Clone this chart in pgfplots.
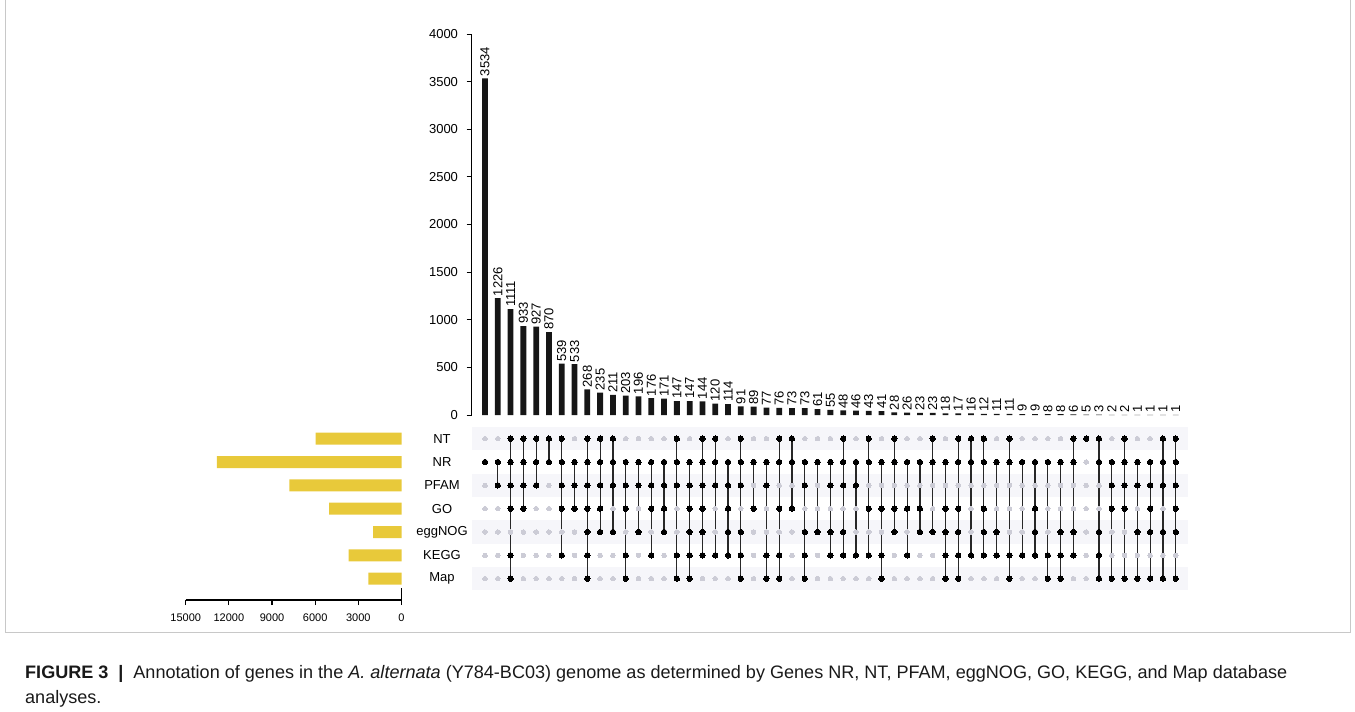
\documentclass[border=0pt]{standalone}
\usepackage{fontspec}
\setmainfont{Liberation Sans}
\usepackage{pgfplots}
\usepackage{pgfplotstable}
\pgfplotsset{compat=1.18}
\definecolor{barblack}{RGB}{22,22,22}
\definecolor{setyellow}{RGB}{232,201,58}
\definecolor{dotgrey}{RGB}{204,204,214}
\definecolor{stripe}{RGB}{246,246,250}
\definecolor{linecol}{RGB}{40,40,40}
\definecolor{framegrey}{RGB}{200,200,200}
\newlength\capw
\newcommand\captionlineone{\textbf{FIGURE 3}\hspace{0.55em}\textbf{|}\hspace{0.55em}Annotation of genes in the \textit{A. alternata} (Y784-BC03) genome as determined by Genes NR, NT, PFAM, eggNOG, GO, KEGG, and Map database}

% i = column, n = intersection size, membership flags, lo/hi = span of the connecting line
\pgfplotstableread{
i n NT NR PF GO EG KE MA lo hi
0 3534 0 1 0 0 0 0 0 6 6
1 1226 0 1 1 0 0 0 0 5 6
2 1111 1 1 1 1 0 1 1 1 7
3 933 1 1 1 1 0 0 0 4 7
4 927 1 1 1 0 0 0 0 5 7
5 870 1 1 0 0 0 0 0 6 7
6 539 1 1 1 1 0 1 0 2 7
7 533 0 1 1 1 0 0 0 4 6
8 268 1 1 1 1 1 1 1 1 7
9 235 1 1 1 1 1 0 0 3 7
10 211 1 1 1 0 1 0 0 3 7
11 203 0 1 1 1 0 1 1 1 6
12 196 0 1 1 0 1 0 0 3 6
13 176 0 1 1 1 0 1 0 2 6
14 171 0 1 1 1 1 0 0 3 6
15 147 1 1 1 0 0 1 1 1 7
16 147 0 1 1 1 1 1 1 1 6
17 144 1 1 1 1 1 1 0 2 7
18 120 1 1 1 0 0 1 0 2 7
19 114 0 1 1 1 1 1 0 2 6
20 91 1 1 1 0 1 1 1 1 7
21 89 0 1 0 1 0 0 0 4 6
22 77 0 1 1 0 0 1 1 1 6
23 76 1 1 0 1 0 1 1 1 7
24 73 1 1 0 1 0 0 0 4 7
25 73 0 1 1 0 1 1 1 1 6
26 61 0 1 0 0 1 0 0 3 6
27 55 0 1 1 0 1 1 0 2 6
28 48 1 1 1 0 1 1 0 2 7
29 46 0 1 1 0 0 1 0 2 6
30 43 1 1 0 1 0 1 0 2 7
31 41 0 1 0 1 0 1 1 1 6
32 28 1 1 0 1 1 0 0 3 7
33 26 0 1 0 1 0 1 0 2 6
34 23 0 1 0 1 1 0 0 3 6
35 23 1 1 0 0 1 0 0 3 7
36 18 0 1 0 1 1 1 1 1 6
37 17 1 1 0 1 1 1 1 1 7
38 16 1 1 0 0 0 1 0 2 7
39 12 1 1 0 1 1 1 0 2 7
40 11 0 1 0 0 1 1 0 2 6
41 11 1 1 0 0 0 1 1 1 7
42 9 0 1 0 0 0 1 0 2 6
43 9 0 1 0 1 1 1 0 2 6
44 8 0 1 0 0 0 1 1 1 6
45 8 0 1 0 0 1 1 1 1 6
46 6 1 1 0 0 1 1 0 2 7
47 5 1 0 0 0 0 0 0 7 7
48 3 1 1 0 0 1 1 1 1 7
49 2 0 1 1 1 0 0 1 1 6
50 2 1 1 1 1 0 0 1 1 7
51 1 0 1 1 0 1 0 1 1 6
52 1 0 1 1 1 1 0 1 1 6
53 1 1 1 1 0 1 0 1 1 7
54 1 1 1 1 1 1 0 1 1 7
}\upset

\pgfplotstableread{
y size
7 5961
6 12834
5 7799
4 5035
3 1976
2 3673
1 2307
}\setsizes

\begin{document}%
\settowidth\capw{\fontsize{10}{12}\selectfont\captionlineone}%
\pgfmathsetmacro\capfs{1262/\capw*10}%
\begin{tikzpicture}[x=1pt,y=1pt]
\useasboundingbox (0,0) rectangle (1355,-712);
\draw[framegrey, line width=1pt] (5.5,0) -- (5.5,-632) -- (1350,-632) -- (1350,0);

% ---------- set sizes (drawn leftwards from 0) ----------
\begin{axis}[
  at={(185.7pt,-600pt)}, anchor=south west,
  scale only axis, width=215.8pt, height=173pt,
  xmin=-15000, xmax=0, ymin=0.087, ymax=7.5,
  axis x line=bottom, axis y line=none,
  x axis line style={-, draw=black, line width=1.2pt},
  xtick={-15000,-12000,-9000,-6000,-3000,0},
  xticklabels={15000,12000,9000,6000,3000,0},
  tick align=outside, major tick length=5pt,
  xtick style={draw=black, line width=1.2pt},
  xticklabel style={font=\fontsize{11}{13}\selectfont, yshift=-5pt},
  scaled x ticks=false,
  clip=false,
]
\addplot[xbar, bar width=12pt, fill=setyellow, draw=none] table[x expr=-\thisrow{size}, y=y] {\setsizes};
\fill[black] (rel axis cs:0,0) ++(-0.6,0.6) rectangle ([xshift=0.6pt,yshift=-0.6pt]rel axis cs:1,0);
\end{axis}

% ---------- intersection size bars ----------
\begin{axis}[
  at={(471.5pt,-415pt)}, anchor=south west,
  scale only axis, width=716.5pt, height=381pt,
  xmin=-1.055, xmax=54.96, ymin=0, ymax=4000,
  axis x line=none, axis y line=left,
  y axis line style={-, draw=black, line width=0.9pt},
  ytick={0,500,...,4000},
  tick align=outside, major tick length=5pt,
  ytick style={draw=black, line width=0.9pt},
  yticklabel style={font=\fontsize{13}{15}\selectfont, xshift=-5pt},
  /pgf/number format/1000 sep={}, /pgf/number format/assume math mode=true,
  scaled y ticks=false,
  clip=false,
]
\addplot[ybar, bar width=5.8pt, fill=barblack, draw=none,
  nodes near coords,
  nodes near coords style={rotate=90, anchor=west, font=\fontsize{13}{15}\selectfont, inner sep=2pt, black}]
  table[x=i, y=n] {\upset};
\end{axis}

% ---------- matrix ----------
\begin{axis}[
  at={(471.5pt,-590.3pt)}, anchor=south west,
  scale only axis, width=716.5pt, height=163.3pt,
  xmin=-1.055, xmax=54.96, ymin=0.5, ymax=7.5,
  axis line style={draw=none},
  xtick=\empty, ytick={1,...,7},
  yticklabels={Map,KEGG,eggNOG,GO,PFAM,NR,NT},
  major tick length=0pt,
  yticklabel style={anchor=center, xshift=-29.5pt, font=\fontsize{13}{15}\selectfont},
  clip=false,
]
\fill[stripe] (axis cs:-1.055,6.5) rectangle (axis cs:54.96,7.5);
\fill[stripe] (axis cs:-1.055,4.5) rectangle (axis cs:54.96,5.5);
\fill[stripe] (axis cs:-1.055,2.5) rectangle (axis cs:54.96,3.5);
\fill[stripe] (axis cs:-1.055,0.5) rectangle (axis cs:54.96,1.5);
\pgfplotsset{greydot/.style={only marks, color=dotgrey, mark=*, mark size=2.3pt, mark options={draw=dotgrey, fill=dotgrey, line width=0pt}},
  blackdot/.style={only marks, color=black, mark=*, mark size=2.7pt, mark options={draw=black, fill=black, line width=0pt}}}
\addplot[greydot] table[x=i, y expr=7] {\upset};
\addplot[greydot] table[x=i, y expr=6] {\upset};
\addplot[greydot] table[x=i, y expr=5] {\upset};
\addplot[greydot] table[x=i, y expr=4] {\upset};
\addplot[greydot] table[x=i, y expr=3] {\upset};
\addplot[greydot] table[x=i, y expr=2] {\upset};
\addplot[greydot] table[x=i, y expr=1] {\upset};
\addplot[draw=none, mark=none, error bars/.cd, y dir=plus, y explicit, error mark=none,
  error bar style={draw=linecol, line width=1.2pt}]
  table[x=i, y=lo, y error expr=\thisrow{hi}-\thisrow{lo}] {\upset};
\addplot[blackdot, restrict expr to domain={\thisrow{NT}}{0.5:1.5}] table[x=i, y expr=7] {\upset};
\addplot[blackdot, restrict expr to domain={\thisrow{NR}}{0.5:1.5}] table[x=i, y expr=6] {\upset};
\addplot[blackdot, restrict expr to domain={\thisrow{PF}}{0.5:1.5}] table[x=i, y expr=5] {\upset};
\addplot[blackdot, restrict expr to domain={\thisrow{GO}}{0.5:1.5}] table[x=i, y expr=4] {\upset};
\addplot[blackdot, restrict expr to domain={\thisrow{EG}}{0.5:1.5}] table[x=i, y expr=3] {\upset};
\addplot[blackdot, restrict expr to domain={\thisrow{KE}}{0.5:1.5}] table[x=i, y expr=2] {\upset};
\addplot[blackdot, restrict expr to domain={\thisrow{MA}}{0.5:1.5}] table[x=i, y expr=1] {\upset};
\end{axis}

% ---------- caption ----------
\node[anchor=base west, inner sep=0pt, text=black!90, font=\fontsize{\capfs}{\capfs}\selectfont] at (25,-678) {\captionlineone};
\node[anchor=base west, inner sep=0pt, text=black!90, font=\fontsize{\capfs}{\capfs}\selectfont] at (25,-703) {analyses.};
\end{tikzpicture}%
\end{document}
